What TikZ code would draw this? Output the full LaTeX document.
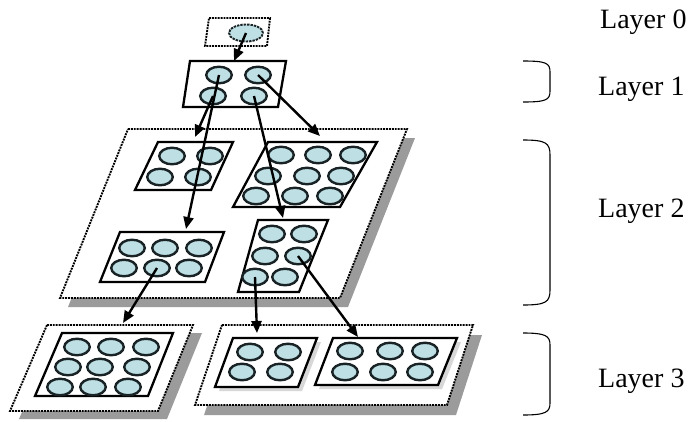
\documentclass[tikz,border=0pt]{standalone}
\usepackage{fontspec}
\setmainfont{Liberation Serif}
\usetikzlibrary{arrows.meta}
\usetikzlibrary{shapes.geometric}

\definecolor{cellfill}{RGB}{190,224,228}
\definecolor{celledge}{RGB}{25,35,38}
\definecolor{shade}{RGB}{155,155,155}

\begin{document}
\begin{tikzpicture}[x=1pt,y=-1pt,
  cell/.style={ellipse,draw=celledge,line width=2.4pt,fill=cellfill,minimum width=25.5pt,minimum height=16.5pt,inner sep=0pt},
  grp/.style={draw,line width=2.3pt,fill=white},
  plane/.style={draw,densely dotted,line width=1.9pt,fill=white},
  shadow/.style={fill=shade},
  link/.style={line width=2.4pt,-{Triangle[length=12pt,width=10pt]}},
  brace/.style={line width=1.1pt},
  lbl/.style={anchor=base west,font=\fontsize{28}{32}\selectfont,inner sep=0pt}]
\useasboundingbox (0,0) rectangle (690,421);
% layer 0
\draw[plane] (209,18) -- (270,18) -- (267,46) -- (205,46) -- cycle;
\node[cell,densely dotted,line width=1.9pt,minimum width=34pt,minimum height=17pt] (l0) at (246,33) {};
% layer 1
\draw[grp] (190,61) -- (286,61) -- (278,107) -- (183,107) -- cycle;
\foreach \n/\x/\y in {l1a/219/75, l1b/258/75, l1c/213/96, l1d/254/96}
  \node[cell] (\n) at (\x,\y) {};
% layer 2
\fill[shadow,shift={(8,9)}] (128,129) -- (407,129) -- (340,298) -- (60,298) -- cycle;
\draw[plane] (128,129) -- (407,129) -- (340,298) -- (60,298) -- cycle;
\draw[grp] (158,142) -- (233,142) -- (211,190) -- (135,190) -- cycle;
\draw[grp] (268,142) -- (377,142) -- (340,207) -- (233,207) -- cycle;
\draw[grp] (120,232) -- (224,232) -- (205,282) -- (100,282) -- cycle;
\draw[grp] (258,220) -- (328,220) -- (299,292) -- (238,292) -- cycle;
\foreach \n/\x/\y in {A1/172/156, A2/210/156, A3/160/177, A4/198/177}
  \node[cell] (\n) at (\x,\y) {};
\foreach \n/\x/\y in {B1/281/155, B2/318/155, B3/353/155, B4/268/176, B5/307/176, B6/341/176, B7/256/196, B8/295/196, B9/330/196}
  \node[cell] (\n) at (\x,\y) {};
\foreach \n/\x/\y in {C1/132/248, C2/165/248, C3/199/248, C4/124/268, C5/157/268, C6/189/268}
  \node[cell] (\n) at (\x,\y) {};
\foreach \n/\x/\y in {D1/272/234, D2/304/234, D3/265/256, D4/298/256, D5/255/277, D6/285/277}
  \node[cell] (\n) at (\x,\y) {};
% layer 3
\fill[shadow,shift={(9,8)}] (47,325) -- (193,325) -- (158,411) -- (10,411) -- cycle;
\draw[plane] (47,325) -- (193,325) -- (158,411) -- (10,411) -- cycle;
\fill[shadow,shift={(9,10)}] (222,325) -- (473,325) -- (447,405) -- (195,405) -- cycle;
\draw[plane] (222,325) -- (473,325) -- (447,405) -- (195,405) -- cycle;
\draw[grp] (62,333) -- (173,333) -- (148,396) -- (35,396) -- cycle;
\fill[shade!40,shift={(4,4)}] (233,338) -- (317,338) -- (298,387) -- (215,387) -- cycle;
\draw[grp] (233,338) -- (317,338) -- (298,387) -- (215,387) -- cycle;
\fill[shade!40,shift={(4,4)}] (333,338) -- (457,338) -- (438,385) -- (315,385) -- cycle;
\draw[grp] (333,338) -- (457,338) -- (438,385) -- (315,385) -- cycle;
\foreach \n/\x/\y in {E1/77/347, E2/111/347, E3/146/347, E4/68/367, E5/100/367, E6/137/367, E7/60/387, E8/93/387, E9/128/387}
  \node[cell] (\n) at (\x,\y) {};
\foreach \n/\x/\y in {F1/250/352, F2/288/352, F3/242/372, F4/280/372}
  \node[cell] (\n) at (\x,\y) {};
\foreach \n/\x/\y in {G1/350/351, G2/390/351, G3/425/351, G4/345/372, G5/383/372, G6/420/372}
  \node[cell] (\n) at (\x,\y) {};
% arrow ends on the box tops
\coordinate (in1) at (234,61);
\coordinate (inA) at (195,137);
\coordinate (inB) at (320,136);
\coordinate (inC) at (186,229);
\coordinate (inD) at (283,218);
\coordinate (inE) at (123,323);
\coordinate (inF) at (257,333);
\coordinate (inG) at (358,337);
\draw[link] (l0.center) -- (in1);
\draw[link] (l1a.center) -- (inC);
\draw[link] (l1c.center) -- (inA);
\draw[link] (l1b.center) -- (inB);
\draw[link] (l1d.center) -- (inD);
\draw[link] (C5.center) -- (inE);
\draw[link] (D5.center) -- (inF);
\draw[link] (D4.center) -- (inG);
% braces and labels
\draw[brace] (523,61) .. controls (546,61) and (550,63) .. (550,72) -- (550,91) .. controls (550,100) and (546,102) .. (523,102);
\draw[brace] (523,140) .. controls (546,140) and (550,143) .. (550,155) -- (550,290) .. controls (550,302) and (546,305) .. (523,305);
\draw[brace] (523,333) .. controls (546,333) and (550,336) .. (550,345) -- (550,403) .. controls (550,412) and (546,415) .. (523,415);
\node[lbl] (t0) at (600,28) {Layer 0};
\node[lbl] (t1) at (598,95) {Layer 1};
\node[lbl] (t2) at (598,217) {Layer 2};
\node[lbl] (t3) at (598,387) {Layer 3};
\end{tikzpicture}
\end{document}
